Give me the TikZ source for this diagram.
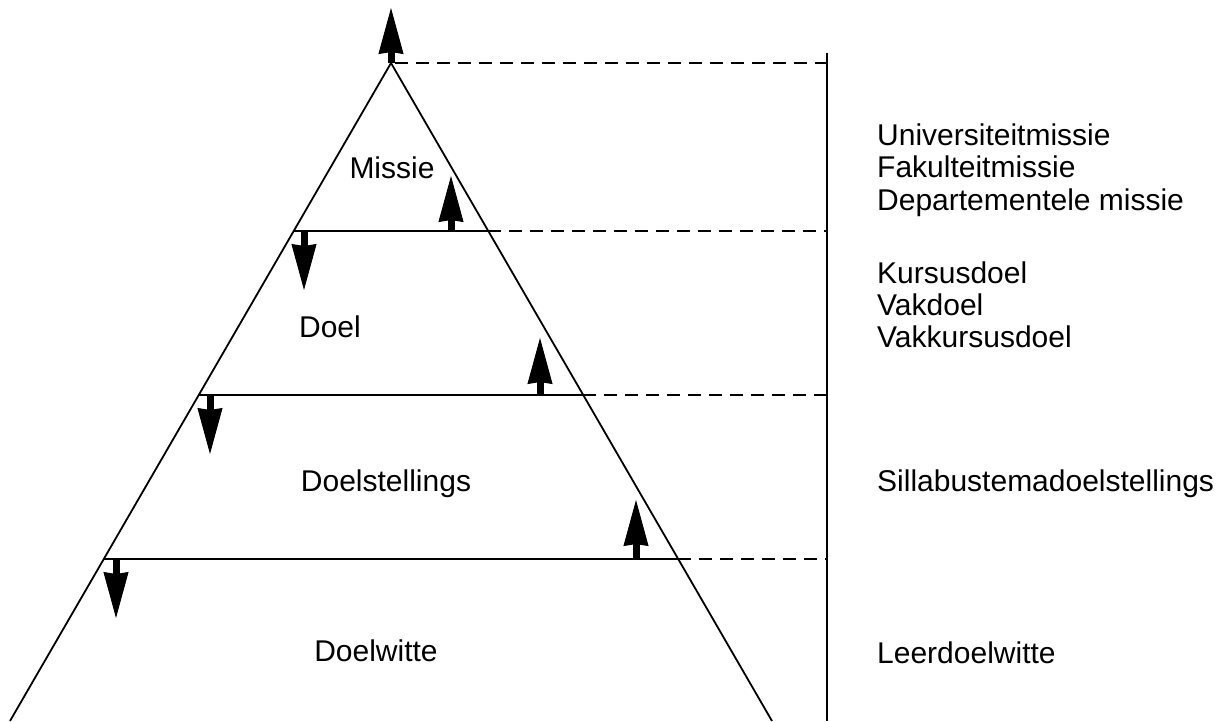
\documentclass[tikz,border=0pt]{standalone}
\usepackage{fontspec}
\setmainfont{Liberation Sans}
\usetikzlibrary{arrows.meta}
\begin{document}
\begin{tikzpicture}[x=1pt,y=-1pt,
  edge/.style={line width=1.8pt},
  guide/.style={line width=1.6pt, dash pattern=on 13pt off 8pt},
  bigarrow/.style={line width=7pt,
    -{Stealth[length=46pt 0 0,width=25pt 0 0,inset=2pt,line width=1pt]}},
  lbl/.style={font=\fontsize{30}{36}\selectfont, inner sep=0pt, anchor=base},
  side/.style={font=\fontsize{30}{36}\selectfont, inner sep=0pt, anchor=base west}]
\useasboundingbox (0,0) rectangle (1227,721);

% pyramid corners
\coordinate (A)  at (391,63);
\coordinate (BL) at (10,721);
\coordinate (BR) at (772,721);

% ends of the three level lines
\coordinate (L1l) at (293.7,231); \coordinate (L1r) at (488.3,231);
\coordinate (L2l) at (198.8,395); \coordinate (L2r) at (583.2,395);
\coordinate (L3l) at (103.8,559); \coordinate (L3r) at (678.2,559);

% right-hand scale
\coordinate (V0) at (827,53);
\coordinate (V1) at (827,721);
\coordinate (D0) at (827,63);
\coordinate (D1) at (827,231);
\coordinate (D2) at (827,395);
\coordinate (D3) at (827,559);

% pyramid outline and levels
\draw[edge] (BL) -- (A) -- (BR);
\draw[edge] (L1l) -- (L1r);
\draw[edge] (L2l) -- (L2r);
\draw[edge] (L3l) -- (L3r);

% scale and dashed guides
\draw[edge] (V0) -- (V1);
\draw[guide] ([xshift=4pt]A) -- (D0);
\draw[guide] (L1r) -- (D1);
\draw[guide] (L2r) -- (D2);
\draw[guide] (L3r) -- (D3);

% arrow ends
\coordinate (T0) at (391,8);
\coordinate (U1a) at (451,231); \coordinate (U1b) at (451,176);
\coordinate (W1a) at (304,231); \coordinate (W1b) at (304,290);
\coordinate (U2a) at (540,395); \coordinate (U2b) at (540,338);
\coordinate (W2a) at (210,395); \coordinate (W2b) at (210,454);
\coordinate (U3a) at (636,559); \coordinate (U3b) at (636,500);
\coordinate (W3a) at (116,559); \coordinate (W3b) at (116,618);

\draw[bigarrow] (A) -- (T0);
\draw[bigarrow] (U1a) -- (U1b);
\draw[bigarrow] (W1a) -- (W1b);
\draw[bigarrow] (U2a) -- (U2b);
\draw[bigarrow] (W2a) -- (W2b);
\draw[bigarrow] (U3a) -- (U3b);
\draw[bigarrow] (W3a) -- (W3b);

% level names
\node[lbl] (missie) at (392,178) {Missie};
\node[lbl] (doel) at (330,337) {Doel};
\node[lbl] (doelst) at (386,491) {Doelstellings};
\node[lbl] (doelw) at (376,661) {Doelwitte};

% examples per level
\node[side] (s1) at (877,145) {Universiteitmissie};
\node[side] (s2) at (877,177) {Fakulteitmissie};
\node[side] (s3) at (877,210) {Departementele missie};
\node[side] (s4) at (877,283) {Kursusdoel};
\node[side] (s5) at (877,315) {Vakdoel};
\node[side] (s6) at (877,347) {Vakkursusdoel};
\node[side] (s7) at (877,491) {Sillabustemadoelstellings};
\node[side] (s8) at (877,663) {Leerdoelwitte};
\end{tikzpicture}
\end{document}
